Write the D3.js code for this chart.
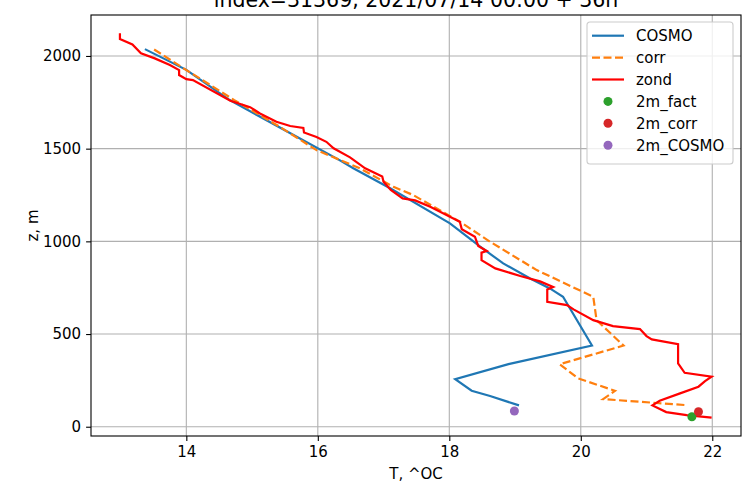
<!DOCTYPE html>
<html>
<head>
<meta charset="utf-8">
<script src="https://cdn.jsdelivr.net/npm/d3@7"></script>
<style>
  body { margin: 0; background: #fff; }
  text { font-family: "DejaVu Sans", sans-serif; fill: #000; }
</style>
</head>
<body>
<div id="chart"></div>
<script>
// data (T in ^C, z in m)
var cosmoT = [13.37, 14.0, 14.66, 16.33, 16.54, 17.1, 18.01, 18.47, 18.82, 19.23, 19.53, 19.73, 20.17, 18.9, 18.09, 18.34, 18.62, 19.06];
var cosmoZ = [2037, 1925, 1762, 1438, 1394, 1286, 1097, 971, 881, 800, 746, 701, 438, 338, 256, 194, 166, 115];

var corrT = [13.51, 14.0, 14.73, 15.42, 15.98, 16.64, 17.15, 17.45, 18.16, 18.62, 19.33, 20.19, 20.24, 20.65, 19.68, 19.96, 20.52, 20.34, 21.58];
var corrZ = [2035, 1924, 1762, 1618, 1492, 1394, 1294, 1250, 1106, 998, 845, 701, 575, 438, 337, 261, 194, 149, 117];

var zondT = [12.99, 12.99, 13.18, 13.31, 13.52, 13.75, 13.89, 13.89, 14.0, 14.1, 14.67, 14.97, 15.12, 15.37, 15.58, 15.78, 15.79, 15.98, 16.13, 16.24,
  16.49, 16.72, 16.98, 17.0, 17.11, 17.29, 17.48, 17.71, 18.16, 18.19, 18.39, 18.44, 18.57, 18.49, 18.49, 18.7, 19.08, 19.38, 19.58, 19.49,
  19.49, 19.79, 19.89, 20.19, 20.49, 20.9, 21.0, 21.08, 21.48, 21.48, 21.58, 21.99, 21.89, 21.79, 21.51, 21.2, 21.09, 21.3, 21.61, 21.99];
var zondZ = [2122, 2091, 2062, 2014, 1987, 1951, 1924, 1897, 1875, 1870, 1758, 1724, 1690, 1645, 1622, 1612, 1587, 1563, 1537, 1502,
  1453, 1394, 1350, 1321, 1277, 1232, 1221, 1187, 1106, 1065, 1025, 975, 948, 939, 899, 854, 813, 784, 754, 740,
  674, 656, 633, 575, 543, 527, 489, 471, 446, 342, 291, 270, 246, 216, 180, 140, 115, 79, 63, 49];

var pointNames = ["2m_fact", "2m_corr", "2m_COSMO"];
var pointT = [21.69, 21.79, 18.99];
var pointZ = [54, 81, 85];

var xTicks = [14, 16, 18, 20, 22];
var yTicks = [0, 500, 1000, 1500, 2000];

var svgWidth = 753;
var svgHeight = 493;
var margin = { top: 15, right: 12, bottom: 57, left: 91 };
var width = svgWidth - margin.left - margin.right;
var height = svgHeight - margin.top - margin.bottom;

var svg = d3.select("#chart")
  .append("svg")
  .attr("width", svgWidth)
  .attr("height", svgHeight);

var chartGroup = svg.append("g")
  .attr("transform", `translate(${margin.left}, ${margin.top})`);

var xScale = d3.scaleLinear()
  .domain([12.55, 22.437])
  .range([0, width]);

var yScale = d3.scaleLinear()
  .domain([-50, 2221])
  .range([height, 0]);

// grid
chartGroup.append("g")
  .selectAll("line")
  .data(xTicks)
  .enter()
  .append("line")
  .attr("x1", d => xScale(d)).attr("x2", d => xScale(d))
  .attr("y1", 0).attr("y2", height)
  .attr("stroke", "#b0b0b0")
  .attr("stroke-width", 1.1);

chartGroup.append("g")
  .selectAll("line")
  .data(yTicks)
  .enter()
  .append("line")
  .attr("y1", d => yScale(d)).attr("y2", d => yScale(d))
  .attr("x1", 0).attr("x2", width)
  .attr("stroke", "#b0b0b0")
  .attr("stroke-width", 1.1);

function pairs(ts, zs) {
  return ts.map((t, i) => [t, zs[i]]);
}

var line = d3.line()
  .x(d => xScale(d[0]))
  .y(d => yScale(d[1]));

chartGroup.append("path")
  .datum(pairs(cosmoT, cosmoZ))
  .attr("d", line)
  .attr("fill", "none")
  .attr("stroke", "#1f77b4")
  .attr("stroke-width", 2.2);

chartGroup.append("path")
  .datum(pairs(corrT, corrZ))
  .attr("d", line)
  .attr("fill", "none")
  .attr("stroke", "#ff7f0e")
  .attr("stroke-width", 2.2)
  .attr("stroke-dasharray", "8,3.5");

chartGroup.append("path")
  .datum(pairs(zondT, zondZ))
  .attr("d", line)
  .attr("fill", "none")
  .attr("stroke", "#ff0000")
  .attr("stroke-width", 2.2);

var pointColors = ["#2ca02c", "#d62728", "#9467bd"];

chartGroup.selectAll(".pt")
  .data(pointNames)
  .enter()
  .append("circle")
  .attr("class", "pt")
  .attr("cx", (d, i) => xScale(pointT[i]))
  .attr("cy", (d, i) => yScale(pointZ[i]))
  .attr("r", 4.5)
  .attr("fill", (d, i) => pointColors[i]);

// axes
var bottomAxis = d3.axisBottom(xScale)
  .tickValues(xTicks)
  .tickSize(4.9)
  .tickPadding(5.5)
  .tickFormat(d3.format("d"));
var leftAxis = d3.axisLeft(yScale)
  .tickValues(yTicks)
  .tickSize(4.9)
  .tickPadding(5)
  .tickFormat(d3.format("d"));

var xAxisG = chartGroup.append("g")
  .attr("transform", `translate(0, ${height})`)
  .call(bottomAxis);
var yAxisG = chartGroup.append("g")
  .call(leftAxis);

[xAxisG, yAxisG].forEach(function (g) {
  g.select(".domain").remove();
  g.selectAll("line").attr("stroke", "#000").attr("stroke-width", 1.1);
  g.selectAll("text")
    .style("font-family", "DejaVu Sans")
    .style("font-size", "15px")
    .attr("fill", "#000");
});

chartGroup.append("rect")
  .attr("width", width)
  .attr("height", height)
  .attr("fill", "none")
  .attr("stroke", "#000")
  .attr("stroke-width", 1.1);

// legend
var legendNames = ["COSMO", "corr", "zond"];
var legendColors = ["#1f77b4", "#ff7f0e", "#ff0000"];

var legend = svg.append("g")
  .attr("transform", "translate(587, 22)");

legend.append("rect")
  .attr("width", 146)
  .attr("height", 142)
  .attr("rx", 3)
  .attr("fill", "#fff")
  .attr("fill-opacity", 0.8)
  .attr("stroke", "#cccccc")
  .attr("stroke-width", 1.1);

legend.selectAll(".lline")
  .data(legendNames)
  .enter()
  .append("line")
  .attr("x1", 5).attr("x2", 37)
  .attr("y1", (d, i) => 13.7 + i * 21.9)
  .attr("y2", (d, i) => 13.7 + i * 21.9)
  .attr("stroke", (d, i) => legendColors[i])
  .attr("stroke-width", 2.2)
  .attr("stroke-dasharray", (d, i) => i == 1 ? "8,3.5" : null);

legend.selectAll(".ldot")
  .data(pointNames)
  .enter()
  .append("circle")
  .attr("cx", 21)
  .attr("cy", (d, i) => 13.7 + (i + 3) * 21.9)
  .attr("r", 4.5)
  .attr("fill", (d, i) => pointColors[i]);

legend.selectAll(".ltext")
  .data(legendNames.concat(pointNames))
  .enter()
  .append("text")
  .attr("x", 49)
  .attr("y", (d, i) => 13.7 + i * 21.9 + 5.5)
  .style("font-size", "15px")
  .text(d => d);

// title and axis labels
svg.append("text")
  .attr("x", margin.left + width / 2)
  .attr("y", 7)
  .style("text-anchor", "middle")
  .style("font-size", "20.5px")
  .text("index=31369, 2021/07/14 00:00 + 36h");

svg.append("text")
  .attr("x", margin.left + width / 2)
  .attr("y", 479)
  .style("text-anchor", "middle")
  .style("font-size", "15px")
  .text("T, ^OC");

svg.append("text")
  .attr("transform", `translate(38, ${margin.top + height / 2}) rotate(-90)`)
  .style("text-anchor", "middle")
  .style("font-size", "15px")
  .text("z, m");
</script>
</body>
</html>
